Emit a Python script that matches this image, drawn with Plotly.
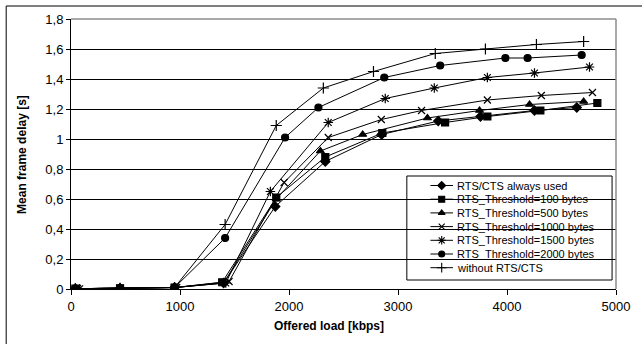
import plotly.graph_objects as go

# ---------------- data ----------------
series_names = [
    "RTS/CTS always used",
    "RTS_Threshold=100 bytes",
    "RTS_Threshold=500 bytes",
    "RTS_Threshold=1000 bytes",
    "RTS_Threshold=1500 bytes",
    "RTS_Threshold=2000 bytes",
    "without RTS/CTS",
]

rts_always_x = [40, 450, 950, 1400, 1874, 2333, 2850, 3369, 3757, 4252, 4640]
rts_always_y = [0.002, 0.005, 0.01, 0.04, 0.55, 0.85, 1.03, 1.12, 1.15, 1.19, 1.21]

thr100_x = [40, 450, 950, 1387, 1883, 2333, 2856, 3432, 3820, 4306, 4829]
thr100_y = [0.002, 0.005, 0.01, 0.045, 0.61, 0.88, 1.04, 1.11, 1.15, 1.19, 1.24]

thr500_x = [40, 450, 950, 1400, 1883, 2288, 2676, 3270, 3748, 4207, 4703]
thr500_y = [0.002, 0.005, 0.01, 0.04, 0.60, 0.92, 1.03, 1.14, 1.19, 1.23, 1.25]

thr1000_x = [60, 450, 970, 1450, 1955, 2360, 2847, 3216, 3820, 4315, 4784]
thr1000_y = [0.002, 0.005, 0.01, 0.05, 0.71, 1.01, 1.13, 1.19, 1.26, 1.29, 1.31]

thr1500_x = [80, 450, 950, 1420, 1829, 2360, 2883, 3333, 3820, 4252, 4757]
thr1500_y = [0.002, 0.005, 0.01, 0.04, 0.65, 1.11, 1.27, 1.34, 1.41, 1.44, 1.48]

thr2000_x = [40, 450, 950, 1414, 1964, 2270, 2874, 3387, 3985, 4189, 4685]
thr2000_y = [0.002, 0.005, 0.01, 0.34, 1.01, 1.21, 1.41, 1.49, 1.54, 1.54, 1.56]

no_rts_x = [40, 450, 950, 1414, 1883, 2315, 2775, 3342, 3802, 4270, 4703]
no_rts_y = [0.002, 0.005, 0.01, 0.43, 1.09, 1.34, 1.45, 1.57, 1.60, 1.63, 1.65]

y_tickvals = [0, 0.2, 0.4, 0.6, 0.8, 1.0, 1.2, 1.4, 1.6, 1.8]
y_ticktext = ["0", "0,2", "0,4", "0,6", "0,8", "1", "1,2", "1,4", "1,6", "1,8"]
x_tickvals = [0, 1000, 2000, 3000, 4000, 5000]
x_ticktext = ["0", "1000", "2000", "3000", "4000", "5000"]

# ---------------- styles ----------------
xs = [rts_always_x, thr100_x, thr500_x, thr1000_x, thr1500_x, thr2000_x, no_rts_x]
ys = [rts_always_y, thr100_y, thr500_y, thr1000_y, thr1500_y, thr2000_y, no_rts_y]
symbols = ["diamond", "square", "triangle-up", "x-thin", "asterisk", "circle", "cross-thin"]
sizes = [7, 7, 7, 7, 8, 7, 8]

FONT = "Liberation Sans, Arial, sans-serif"
W, H = 642, 344
L, R, T, B = 71, 16, 19, 55  # plot area 71..626 x 19..289

fig = go.Figure()

for i in range(7):
    fig.add_trace(go.Scatter(
        x=xs[i], y=ys[i], mode="lines+markers", name=series_names[i],
        line=dict(color="black", width=1),
        marker=dict(symbol=symbols[i], size=sizes[i], color="black",
                    line=dict(color="black", width=1.2)),
        showlegend=False,
    ))

# ---------------- manual legend (pixel-coordinate overlay axes) ----------------
leg_x0, leg_x1, leg_y0, leg_y1 = 413, 622, 176, 280
row0, row_h = 185.5, 13.7
for i in range(7):
    yy = row0 + i * row_h
    fig.add_trace(go.Scatter(
        x=[437, 448.5, 460], y=[yy, yy, yy], xaxis="x2", yaxis="y2",
        mode="lines", line=dict(color="black", width=1), showlegend=False,
        hoverinfo="skip"))
    fig.add_trace(go.Scatter(
        x=[448.5], y=[yy], xaxis="x2", yaxis="y2",
        mode="markers",
        marker=dict(symbol=symbols[i], size=sizes[i] - 1, color="black",
                    line=dict(color="black", width=1.1)),
        showlegend=False, hoverinfo="skip"))
    fig.add_annotation(x=462, y=yy, xref="x2", yref="y2", text=series_names[i],
                       showarrow=False, xanchor="left", yanchor="middle",
                       font=dict(family=FONT, size=11, color="black"))

fig.add_shape(type="rect", xref="x2", yref="y2", x0=leg_x0, x1=leg_x1, y0=leg_y0, y1=leg_y1,
              line=dict(color="black", width=1), fillcolor="white", layer="below")

# plot-area grey border (top/right)
fig.add_shape(type="line", xref="paper", yref="paper", x0=0, x1=1, y0=1, y1=1,
              line=dict(color="#8c8c8c", width=1.5), layer="above")
fig.add_shape(type="line", xref="paper", yref="paper", x0=1, x1=1, y0=0, y1=1,
              line=dict(color="#8c8c8c", width=1.5), layer="above")
# outer figure border (left/top visible)
fig.add_shape(type="rect", xref="paper", yref="paper",
              x0=(5 - L) / 555, x1=(700 - L) / 555, y0=(289 - 400) / 270, y1=(289 - 6) / 270,
              line=dict(color="black", width=1))

# axis titles
fig.add_annotation(text="<b>Offered load [kbps]</b>", xref="paper", yref="paper",
                   x=(334 - L) / 555, y=(289 - 326) / 270, showarrow=False,
                   xanchor="center", yanchor="middle",
                   font=dict(family=FONT, size=12, color="black"))
fig.add_annotation(text="<b>Mean frame delay [s]</b>", xref="paper", yref="paper",
                   x=(21 - L) / 555, y=(289 - 154) / 270, showarrow=False, textangle=-90,
                   xanchor="center", yanchor="middle",
                   font=dict(family=FONT, size=12, color="black"))

fig.update_layout(
    width=W, height=H,
    margin=dict(l=L, r=R, t=T, b=B),
    paper_bgcolor="white", plot_bgcolor="white",
    showlegend=False,
    xaxis=dict(range=[0, 5000], tickvals=x_tickvals, ticktext=x_ticktext,
               showgrid=False, zeroline=False, showline=True, linecolor="black", linewidth=1,
               ticks="outside", ticklen=5, tickcolor="black",
               tickfont=dict(family=FONT, size=13, color="black")),
    yaxis=dict(range=[0, 1.8], tickvals=y_tickvals, ticktext=y_ticktext,
               showgrid=True, gridcolor="black", gridwidth=1, zeroline=False,
               showline=True, linecolor="black", linewidth=1,
               ticks="outside", ticklen=4, tickcolor="black",
               tickfont=dict(family=FONT, size=13, color="black")),
    xaxis2=dict(range=[L, W - R], overlaying="x", visible=False, fixedrange=True),
    yaxis2=dict(range=[H - B, T], overlaying="y", visible=False, fixedrange=True),
)

fig.write_html("out.html")
